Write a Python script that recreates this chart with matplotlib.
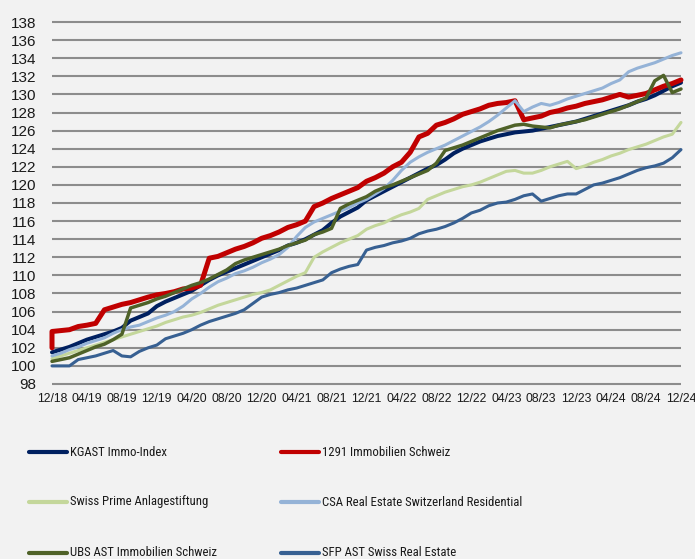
import numpy as np
import matplotlib
matplotlib.use("Agg")
import matplotlib.pyplot as plt
from matplotlib import font_manager
from matplotlib.lines import Line2D

# Monthly index values, 12/2018 = start
tick_labels = ["12/18", "04/19", "08/19", "12/19", "04/20", "08/20", "12/20",
               "04/21", "08/21", "12/21", "04/22", "08/22", "12/22", "04/23",
               "08/23", "12/23", "04/24", "08/24", "12/24"]

kgast = [101.5, 101.8, 102.1, 102.5, 102.9, 103.2, 103.5, 103.8, 104.2, 105.0,
         105.4, 105.8, 106.6, 107.1, 107.5, 107.9, 108.3, 108.9, 109.5, 110.0,
         110.4, 110.8, 111.2, 111.6, 112.0, 112.4, 112.8, 113.3, 113.6, 114.0,
         114.5, 115.0, 115.8, 116.5, 117.0, 117.5, 118.3, 118.8, 119.3, 119.8,
         120.3, 120.8, 121.3, 121.8, 122.2, 122.8, 123.5, 124.0, 124.4, 124.8,
         125.1, 125.4, 125.6, 125.8, 125.9, 126.0, 126.2, 126.4, 126.6, 126.8,
         127.0, 127.3, 127.6, 127.9, 128.2, 128.5, 128.8, 129.2, 129.5, 129.9,
         130.4, 130.9, 131.3]

# 1291 has an extra starting value on the first date
imm1291 = [102.0,
           103.8, 103.9, 104.0, 104.35, 104.5, 104.7, 106.2, 106.5, 106.8, 107.0,
           107.3, 107.6, 107.85, 108.0, 108.2, 108.5, 108.6, 108.9, 111.9, 112.1,
           112.5, 112.9, 113.2, 113.6, 114.1, 114.4, 114.8, 115.3, 115.6, 116.0,
           117.6, 118.0, 118.5, 118.9, 119.3, 119.7, 120.4, 120.8, 121.3, 122.0,
           122.5, 123.6, 125.3, 125.7, 126.6, 126.9, 127.3, 127.8, 128.1, 128.4,
           128.8, 129.0, 129.1, 129.3, 127.2, 127.4, 127.6, 128.0, 128.2, 128.5,
           128.7, 129.0, 129.2, 129.4, 129.7, 130.0, 129.7, 129.9, 130.1, 130.5,
           130.9, 131.2, 131.6]

swiss_prime = [100.8, 101.1, 101.4, 101.7, 102.0, 102.3, 102.6, 102.9, 103.2, 103.5,
               103.8, 104.1, 104.4, 104.8, 105.1, 105.4, 105.6, 105.9, 106.3, 106.7,
               107.0, 107.3, 107.6, 107.9, 108.1, 108.4, 108.9, 109.4, 109.9, 110.3,
               112.0, 112.6, 113.1, 113.6, 114.0, 114.4, 115.1, 115.5, 115.8, 116.3,
               116.7, 117.0, 117.4, 118.4, 118.8, 119.2, 119.5, 119.8, 120.0, 120.3,
               120.7, 121.1, 121.5, 121.6, 121.3, 121.3, 121.6, 122.0, 122.3, 122.6,
               121.8, 122.1, 122.5, 122.8, 123.2, 123.5, 123.9, 124.2, 124.5, 124.9,
               125.3, 125.6, 126.9]

csa = [101.1, 101.4, 101.8, 102.1, 102.5, 102.8, 103.1, 103.6, 104.0, 104.3,
       104.5, 104.9, 105.3, 105.6, 106.0, 106.6, 107.4, 108.0, 108.7, 109.3,
       109.7, 110.2, 110.5, 110.9, 111.4, 111.8, 112.3, 113.1, 114.3, 115.3,
       115.9, 116.3, 116.7, 117.1, 117.5, 118.0, 118.4, 119.0, 119.6, 120.5,
       121.6, 122.5, 123.1, 123.6, 124.0, 124.4, 124.9, 125.4, 125.9, 126.4,
       127.0, 127.7, 128.5, 129.3, 128.1, 128.6, 129.0, 128.8, 129.1, 129.5,
       129.8, 130.1, 130.4, 130.7, 131.2, 131.6, 132.5, 132.9, 133.2, 133.5,
       133.9, 134.3, 134.6]

ubs = [100.5, 100.7, 100.9, 101.3, 101.7, 102.1, 102.4, 102.9, 103.5, 106.4,
       106.7, 107.0, 107.4, 107.7, 108.1, 108.5, 108.9, 109.2, 109.6, 110.1,
       110.6, 111.3, 111.7, 112.0, 112.3, 112.6, 112.9, 113.3, 113.6, 113.9,
       114.5, 114.8, 115.2, 117.4, 117.9, 118.3, 118.7, 119.3, 119.7, 120.0,
       120.4, 120.8, 121.2, 121.6, 122.4, 123.8, 124.1, 124.4, 124.8, 125.2,
       125.6, 126.0, 126.3, 126.6, 126.7, 126.5, 126.4, 126.3, 126.6, 126.8,
       127.0, 127.2, 127.5, 127.8, 128.1, 128.4, 128.8, 129.2, 129.6, 131.5,
       132.1, 130.2, 130.6]

sfp = [100.0, 100.0, 100.0, 100.7, 100.9, 101.1, 101.4, 101.7, 101.1, 101.0,
       101.6, 102.0, 102.3, 103.0, 103.3, 103.6, 104.0, 104.5, 104.9, 105.2,
       105.5, 105.8, 106.2, 106.9, 107.6, 107.9, 108.1, 108.4, 108.6, 108.9,
       109.2, 109.5, 110.3, 110.7, 111.0, 111.2, 112.8, 113.1, 113.3, 113.6,
       113.8, 114.1, 114.6, 114.9, 115.1, 115.4, 115.8, 116.3, 116.9, 117.2,
       117.7, 118.0, 118.1, 118.4, 118.8, 119.0, 118.2, 118.5, 118.8, 119.0,
       119.0, 119.5, 120.0, 120.2, 120.5, 120.8, 121.2, 121.6, 121.9, 122.1,
       122.4, 123.0, 123.9]

months = np.arange(len(kgast))
months_1291 = np.concatenate([[0], months])

bg = "#f2f2f2"
plt.rcParams["font.family"] = ["Liberation Sans", "DejaVu Sans"]

fig = plt.figure(figsize=(6.95, 5.59), dpi=100, facecolor=bg)
W, H = 695, 559
ax = fig.add_axes([52 / W, 1 - 385.8 / H, (681 - 52) / W, (385.8 - 20.2) / H])
ax.set_facecolor(bg)

series = [
    ("KGAST Immo-Index", months, kgast, "#002060", 2.9),
    ("1291 Immobilien Schweiz", months_1291, imm1291, "#c00000", 3.6),
    ("Swiss Prime Anlagestiftung", months, swiss_prime, "#c4d79b", 2.2),
    ("CSA Real Estate Switzerland Residential", months, csa, "#95b3d7", 2.2),
    ("UBS AST Immobilien Schweiz", months, ubs, "#4f6228", 2.5),
    ("SFP AST Swiss Real Estate", months, sfp, "#376092", 2.2),
]

for i, (name, x, y, col, lw) in enumerate(series):
    ax.plot(x, y, color=col, lw=lw, solid_joinstyle="round",
            solid_capstyle="round", zorder=3 + i, clip_on=False, label=name)

ax.set_xlim(0, 72)
ax.set_ylim(97.8, 138.2)
ax.set_yticks(np.arange(98, 139, 2))
ax.set_xticks(np.arange(0, 73, 4))
ax.set_xticklabels(tick_labels)
ax.grid(axis="y", color="#8c8c8c", lw=1.5, zorder=1)
ax.grid(axis="x", visible=False)
for s in ax.spines.values():
    s.set_visible(False)
ax.tick_params(length=0)
ax.tick_params(axis="y", labelsize=11, pad=11, colors="#1a1a1a")
ax.tick_params(axis="x", labelsize=8.8, pad=5, colors="#1a1a1a")

# legend font: use a narrow face if one is installed
names = {(f.name, f.stretch) for f in font_manager.fontManager.ttflist}
if ("Roboto Condensed", "normal") in names or ("Roboto Condensed", "condensed") in names:
    leg_font = dict(family="Roboto Condensed", size=9.2)
elif ("DejaVu Sans", "condensed") in names:
    leg_font = dict(family="DejaVu Sans", stretch="condensed", size=8)
else:
    leg_font = dict(family="Liberation Sans", size=8.3)

# legend laid out in three rows, two columns (row-wise like the original)
col_x = [29, 281]
row_y = [452, 502, 553]
for i, (name, x, y, col, lw) in enumerate(series):
    r, c = divmod(i, 2)
    yy = 1 - row_y[r] / H
    x0 = col_x[c] / W
    fig.add_artist(Line2D([x0, x0 + 38 / W], [yy, yy], transform=fig.transFigure,
                          color=col, lw=3.0, solid_capstyle="round"))
    fig.text(x0 + 41 / W, yy, name, va="center", ha="left", color="#1a1a1a",
             **leg_font)

fig.savefig("out.png", dpi=100, facecolor=bg)
